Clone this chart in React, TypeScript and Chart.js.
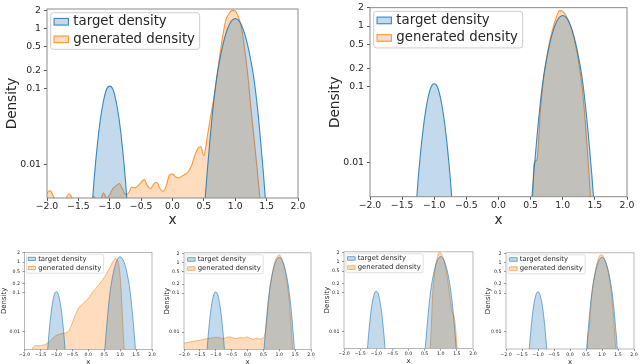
import React, { useEffect, useRef } from 'react';
import { Chart, Scale, registerables } from 'chart.js';

Chart.register(...registerables);

const FONT = '"DejaVu Sans", "Liberation Sans", sans-serif';
const Z = 0.0002;

// ---------------- data ----------------
const X_GRID = [-2, -1.95, -1.9, -1.85, -1.8, -1.75, -1.7, -1.65, -1.6, -1.55,
  -1.5, -1.45, -1.4, -1.35, -1.3, -1.25, -1.2, -1.15, -1.1, -1.05,
  -1, -0.95, -0.9, -0.85, -0.8, -0.75, -0.7, -0.65, -0.6, -0.55,
  -0.5, -0.45, -0.4, -0.35, -0.3, -0.25, -0.2, -0.15, -0.1, -0.05,
  0, 0.05, 0.1, 0.15, 0.2, 0.25, 0.3, 0.35, 0.4, 0.45,
  0.5, 0.55, 0.6, 0.65, 0.7, 0.75, 0.8, 0.85, 0.9, 0.95,
  1, 1.05, 1.1, 1.15, 1.2, 1.25, 1.3, 1.35, 1.4, 1.45,
  1.5, 1.55, 1.6, 1.65, 1.7, 1.75, 1.8, 1.85, 1.9, 1.95,
  2];

const TARGET_DENSITY = [Z, Z, Z, Z, Z, Z, Z, Z, Z, Z,
  Z, Z, Z, 0.0004, 0.0017, 0.0062, 0.0174, 0.039, 0.069, 0.098,
  0.11, 0.098, 0.069, 0.039, 0.0174, 0.0062, 0.0017, 0.0004, Z, Z,
  Z, Z, Z, Z, Z, Z, Z, Z, Z, Z,
  Z, Z, Z, Z, Z, Z, Z, Z, Z, 0.0005,
  0.0021, 0.0074, 0.0225, 0.06, 0.141, 0.291, 0.525, 0.831, 1.153, 1.404,
  1.5, 1.404, 1.153, 0.831, 0.525, 0.291, 0.141, 0.06, 0.0225, 0.0074,
  0.0021, 0.0005, Z, Z, Z, Z, Z, Z, Z, Z,
  Z];

const GEN_TOP_LEFT = [0.0042, 0.0045, 0.0038, 0.0032, 0.003, 0.0028, 0.0035, 0.0041, 0.0036, 0.003,
  0.0025, 0.0025, 0.003, 0.0025, 0.003, 0.0038, 0.003, 0.0033, 0.0042, 0.0036,
  0.004, 0.0048, 0.0052, 0.0056, 0.0048, 0.004, 0.0042, 0.005, 0.0049, 0.0052,
  0.0058, 0.0063, 0.0052, 0.0048, 0.0055, 0.0058, 0.0048, 0.0044, 0.0052, 0.0072,
  0.0075, 0.0068, 0.0066, 0.007, 0.0074, 0.008, 0.0095, 0.0127, 0.016, 0.0172,
  0.013, 0.022, 0.04, 0.068, 0.14, 0.34, 0.75, 1.4, 1.8, 2.05,
  2.0, 1.6, 1.05, 0.45, 0.17, 0.055, 0.022, 0.0085, 0.003, 0.0008,
  Z, Z, Z, Z, Z, Z, Z, Z, Z, Z,
  Z];

const GEN_TOP_RIGHT = [Z, Z, Z, Z, Z, Z, Z, Z, Z, Z,
  Z, Z, Z, Z, Z, Z, Z, Z, Z, Z,
  Z, Z, Z, Z, Z, Z, Z, Z, Z, Z,
  Z, Z, Z, Z, Z, Z, Z, Z, Z, Z,
  Z, Z, Z, Z, Z, Z, Z, Z, Z, Z,
  Z, 0.0095, 0.011, 0.045, 0.13, 0.3, 0.58, 0.95, 1.4, 1.8,
  1.75, 1.5, 1.15, 0.8, 0.48, 0.24, 0.1, 0.035, 0.009, 0.002,
  0.0003, Z, Z, Z, Z, Z, Z, Z, Z, Z,
  Z];

const GEN_BOTTOM_1 = [Z, Z, Z, Z, Z, 0.0036, 0.0042, 0.0045, 0.0045, 0.0044,
  0.0045, 0.0046, 0.0046, 0.0047, 0.005, 0.0053, 0.0058, 0.0064, 0.0071, 0.0077,
  0.0082, 0.0085, 0.0088, 0.009, 0.0092, 0.0093, 0.0095, 0.0099, 0.011, 0.0135,
  0.017, 0.022, 0.028, 0.034, 0.041, 0.046, 0.05, 0.055, 0.06, 0.066,
  0.073, 0.082, 0.095, 0.11, 0.125, 0.145, 0.17, 0.195, 0.23, 0.27,
  0.32, 0.38, 0.48, 0.58, 0.75, 0.95, 1.15, 1.32, 1.2, 0.9,
  0.35, 0.06, 0.008, 0.002, 0.0003, Z, Z, Z, Z, Z,
  Z, Z, Z, Z, Z, Z, Z, Z, Z, Z,
  Z];

const GEN_BOTTOM_2 = [0.0052, 0.0053, 0.0054, 0.0055, 0.0056, 0.0057, 0.0058, 0.0059, 0.006, 0.0061,
  0.0062, 0.0063, 0.0064, 0.0066, 0.0067, 0.0068, 0.0069, 0.007, 0.0071, 0.0073,
  0.0073, 0.0073, 0.0072, 0.007, 0.0068, 0.0068, 0.007, 0.0073, 0.0075, 0.0075,
  0.0073, 0.0071, 0.0069, 0.0069, 0.007, 0.0071, 0.0072, 0.0071, 0.007, 0.0072,
  0.0075, 0.0072, 0.0068, 0.0066, 0.0066, 0.0068, 0.007, 0.0068, 0.0066, 0.0068,
  0.0072, 0.0085, 0.018, 0.05, 0.13, 0.3, 0.58, 0.98, 1.35, 1.65,
  1.8, 1.6, 1.2, 0.8, 0.45, 0.2, 0.08, 0.025, 0.007, 0.0015,
  0.0003, Z, Z, Z, Z, Z, Z, Z, Z, Z,
  Z];

const GEN_BOTTOM_3 = [Z, Z, Z, Z, Z, Z, Z, Z, Z, Z,
  Z, Z, Z, Z, Z, Z, Z, Z, Z, Z,
  Z, Z, Z, Z, Z, Z, Z, Z, Z, Z,
  Z, Z, Z, Z, Z, Z, Z, Z, Z, Z,
  Z, Z, Z, Z, Z, Z, Z, Z, Z, Z,
  Z, Z, Z, 0.0015, 0.01, 0.09, 0.35, 0.85, 1.5, 2.05,
  2.0, 1.6, 1.1, 0.65, 0.33, 0.14, 0.06, 0.032, 0.027, 0.015,
  0.004, 0.0005, Z, Z, Z, Z, Z, Z, Z, Z,
  Z];

const GEN_BOTTOM_4 = [Z, Z, Z, Z, Z, Z, Z, Z, Z, Z,
  Z, Z, Z, Z, Z, Z, Z, Z, Z, Z,
  Z, Z, Z, Z, Z, Z, Z, Z, Z, Z,
  Z, Z, Z, Z, Z, Z, Z, Z, Z, Z,
  Z, Z, Z, Z, Z, Z, Z, Z, Z, Z,
  0.0004, 0.006, 0.012, 0.045, 0.13, 0.3, 0.6, 1.0, 1.45, 1.8,
  1.8, 1.55, 1.15, 0.78, 0.45, 0.22, 0.09, 0.03, 0.008, 0.0018,
  0.0003, Z, Z, Z, Z, Z, Z, Z, Z, Z,
  Z];

const SERIES_LABELS = ['target density', 'generated density'];
const Y_TICKS = [0.01, 0.1, 0.2, 0.5, 1, 2];
const X_MIN = -2;
const X_MAX = 2;
const X_STEP = 0.5;
const Y_MIN = 0.0036;
const X_TITLE = 'x';
const Y_TITLE = 'Density';

// ---------------- custom y scale (log, stretched below 0.1) ----------------
const LOW_STRETCH = 1.27;
function warp(v: number) {
  const l = Math.log10(Math.max(v, 1e-9));
  return l >= -1 ? l : -1 + (l + 1) * LOW_STRETCH;
}
function unwarp(t: number) {
  const l = t >= -1 ? t : -1 + (t + 1) / LOW_STRETCH;
  return Math.pow(10, l);
}

class DensityScale extends Scale {
  static id = 'densitylog';
  static defaults = {};
  determineDataLimits() {
    const self: any = this;
    self.min = self.options.min;
    self.max = self.options.max;
  }
  buildTicks() {
    const self: any = this;
    return Y_TICKS.filter((v) => v >= self.min && v <= self.max).map((v) => ({ value: v }));
  }
  getLabelForValue(v: any) {
    return String(v);
  }
  configure() {
    super.configure();
    const self: any = this;
    self._tLow = warp(self.min);
    self._tHigh = warp(self.max);
  }
  getPixelForValue(v: any) {
    const self: any = this;
    return self.getPixelForDecimal((warp(v) - self._tLow) / (self._tHigh - self._tLow));
  }
  getValueForPixel(p: number) {
    const self: any = this;
    return unwarp(self._tLow + self.getDecimalForPixel(p) * (self._tHigh - self._tLow));
  }
}
Chart.register(DensityScale as any);

// ---------------- frame + legend plugin ----------------
const mplFrame = {
  id: 'mplFrame',
  afterDatasetsDraw(chart: any, _args: any, opts: any) {
    const { ctx, chartArea: a } = chart;
    ctx.save();
    ctx.strokeStyle = opts.spineColor;
    ctx.lineWidth = opts.spineWidth;
    ctx.strokeRect(a.left, a.top, a.right - a.left, a.bottom - a.top);

    const f = opts.fontSize;
    ctx.font = `${f}px ${FONT}`;
    const ds = chart.data.datasets;
    let tw = 0;
    ds.forEach((d: any) => { tw = Math.max(tw, ctx.measureText(d.label).width); });
    const bx = a.left + f * 0.28;
    const by = a.top + f * 0.28;
    const bw = f * 1.7 + tw + f * 0.35;
    const bh = f * 2.75;
    const r = f * 0.2;
    ctx.beginPath();
    ctx.moveTo(bx + r, by);
    ctx.lineTo(bx + bw - r, by);
    ctx.quadraticCurveTo(bx + bw, by, bx + bw, by + r);
    ctx.lineTo(bx + bw, by + bh - r);
    ctx.quadraticCurveTo(bx + bw, by + bh, bx + bw - r, by + bh);
    ctx.lineTo(bx + r, by + bh);
    ctx.quadraticCurveTo(bx, by + bh, bx, by + bh - r);
    ctx.lineTo(bx, by + r);
    ctx.quadraticCurveTo(bx, by, bx + r, by);
    ctx.closePath();
    ctx.fillStyle = 'rgba(255,255,255,0.8)';
    ctx.fill();
    ctx.strokeStyle = '#cccccc';
    ctx.lineWidth = opts.frameWidth;
    ctx.stroke();

    ds.forEach((d: any, i: number) => {
      const cy = by + f * 0.68 + i * f * 1.32;
      const px = bx + f * 0.25;
      const pw = f * 1.08;
      const ph = f * 0.5;
      ctx.fillStyle = '#ffffff';
      ctx.fillRect(px, cy - ph / 2, pw, ph);
      ctx.fillStyle = d.backgroundColor;
      ctx.fillRect(px, cy - ph / 2, pw, ph);
      ctx.strokeStyle = d.borderColor;
      ctx.lineWidth = opts.patchLine;
      ctx.strokeRect(px, cy - ph / 2, pw, ph);
      ctx.fillStyle = '#262626';
      ctx.textBaseline = 'middle';
      ctx.textAlign = 'left';
      ctx.fillText(d.label, bx + f * 1.7, cy);
    });
    ctx.restore();
  },
};

// ---------------- layout ----------------
const BIG = { tick: 9.3, title: 13.6, legend: 13.3, tickLen: 3, xPad: 1, yPad: 3, line: 1.1, titlePad: 4, padTop: 9, padRight: 12, spine: 1, frame: 1 };
const SMALL = { tick: 4.7, title: 7, legend: 6.9, tickLen: 2, xPad: 1, yPad: 2.5, line: 0.7, titlePad: 0, padTop: 5, padRight: 7, spine: 0.6, frame: 0.6 };

const PANELS = [
  { key: 'tl', gen: GEN_TOP_LEFT, box: { l: 47, t: 9, r: 298, b: 198 }, yMax: 2.16, big: true, titleX: 12, xTitleY: 221 },
  { key: 'tr', gen: GEN_TOP_RIGHT, box: { l: 370, t: 5, r: 627, b: 196.7 }, yMax: 2.02, big: true, titleX: 335, xTitleY: 221 },
  { key: 'b1', gen: GEN_BOTTOM_1, box: { l: 24.5, t: 252.3, r: 152, b: 349.3 }, yMax: 2.1, big: false, titleX: 4.5, xTitleY: 361.7 },
  { key: 'b2', gen: GEN_BOTTOM_2, box: { l: 184, t: 252.7, r: 311, b: 349.3 }, yMax: 2.1, big: false, titleX: 166.7, xTitleY: 361.7 },
  { key: 'b3', gen: GEN_BOTTOM_3, box: { l: 344, t: 251.5, r: 473, b: 348.5 }, yMax: 2.15, big: false, titleX: 326.7, xTitleY: 361 },
  { key: 'b4', gen: GEN_BOTTOM_4, box: { l: 506, t: 252.7, r: 634, b: 349 }, yMax: 2.1, big: false, titleX: 488.3, xTitleY: 361.7 },
];

function fmtX(v: number) {
  const s = Math.abs(v).toFixed(1);
  return v < -1e-9 ? '\u2212' + s : s;
}

function Panel({ p }: any) {
  const ref = useRef<HTMLCanvasElement | null>(null);
  const s = p.big ? BIG : SMALL;
  const titleLH = s.title * 1.2;
  const cLeft = Math.round(p.titleX - titleLH / 2 - s.titlePad);
  const yAxisW = p.box.l - cLeft;
  const cTop = Math.max(0, Math.round(p.box.t - s.padTop));
  const padTop = p.box.t - cTop;
  const cBottom = Math.round(p.xTitleY + titleLH / 2 + s.titlePad);
  const xAxisH = cBottom - p.box.b;
  const cRight = Math.round(p.box.r + s.padRight);
  const padRight = cRight - p.box.r;
  const cw = cRight - cLeft;
  const ch = cBottom - cTop;

  useEffect(() => {
    const tickFont = { family: FONT, size: s.tick, lineHeight: 1 };
    const titleFont = { family: FONT, size: s.title, lineHeight: 1.2 };
    const chart = new Chart(ref.current as HTMLCanvasElement, {
      type: 'line',
      data: {
        datasets: [
          {
            label: SERIES_LABELS[0],
            data: X_GRID.map((x, i) => ({ x, y: TARGET_DENSITY[i] })),
            borderColor: 'rgba(31,119,180,0.85)',
            backgroundColor: 'rgba(31,119,180,0.27)',
            borderWidth: s.line,
            fill: 'start',
            pointRadius: 0,
            cubicInterpolationMode: 'monotone',
          },
          {
            label: SERIES_LABELS[1],
            data: X_GRID.map((x, i) => ({ x, y: p.gen[i] })),
            borderColor: 'rgba(255,127,14,0.8)',
            backgroundColor: 'rgba(255,127,14,0.27)',
            borderWidth: s.line,
            fill: 'start',
            pointRadius: 0,
            cubicInterpolationMode: 'monotone',
          },
        ],
      },
      options: {
        responsive: false,
        animation: false,
        devicePixelRatio: 1,
        events: [],
        layout: { padding: { left: 0, top: padTop, right: padRight, bottom: 0 } },
        plugins: {
          legend: { display: false },
          tooltip: { enabled: false },
          mplFrame: { spineColor: '#8a8a8a', spineWidth: s.spine, fontSize: s.legend, frameWidth: s.frame, patchLine: s.line },
        } as any,
        scales: {
          x: {
            type: 'linear',
            min: X_MIN,
            max: X_MAX,
            afterFit: (sc: any) => { sc.height = xAxisH; },
            ticks: {
              stepSize: X_STEP,
              autoSkip: false,
              maxRotation: 0,
              minRotation: 0,
              padding: s.xPad,
              font: tickFont,
              color: '#262626',
              callback: (v: any) => fmtX(Number(v)),
            },
            grid: { display: true, drawOnChartArea: false, drawTicks: true, tickLength: s.tickLen, color: '#555555', lineWidth: s.spine },
            border: { display: false },
            title: { display: true, text: X_TITLE, font: titleFont, color: '#262626', padding: { top: 0, bottom: s.titlePad } },
          },
          y: {
            type: 'densitylog',
            min: Y_MIN,
            max: p.yMax,
            afterFit: (sc: any) => { sc.width = yAxisW; },
            ticks: {
              autoSkip: false,
              padding: s.yPad,
              font: tickFont,
              color: '#262626',
              callback: (v: any) => String(v),
            },
            grid: { display: true, drawOnChartArea: false, drawTicks: true, tickLength: s.tickLen, color: '#555555', lineWidth: s.spine },
            border: { display: false },
            title: { display: true, text: Y_TITLE, font: titleFont, color: '#262626', padding: { top: s.titlePad, bottom: 0 } },
          } as any,
        },
      },
      plugins: [mplFrame as any],
    } as any);
    return () => chart.destroy();
  }, []);

  return (
    <canvas
      ref={ref}
      width={cw}
      height={ch}
      style={{ position: 'absolute', left: cLeft, top: cTop, width: cw, height: ch }}
    />
  );
}

export default function App() {
  return (
    <div style={{ position: 'fixed', left: 0, top: 0, width: 640, height: 364, overflow: 'hidden', background: '#ffffff' }}>
      {PANELS.map((p) => (
        <Panel key={p.key} p={p} />
      ))}
    </div>
  );
}
